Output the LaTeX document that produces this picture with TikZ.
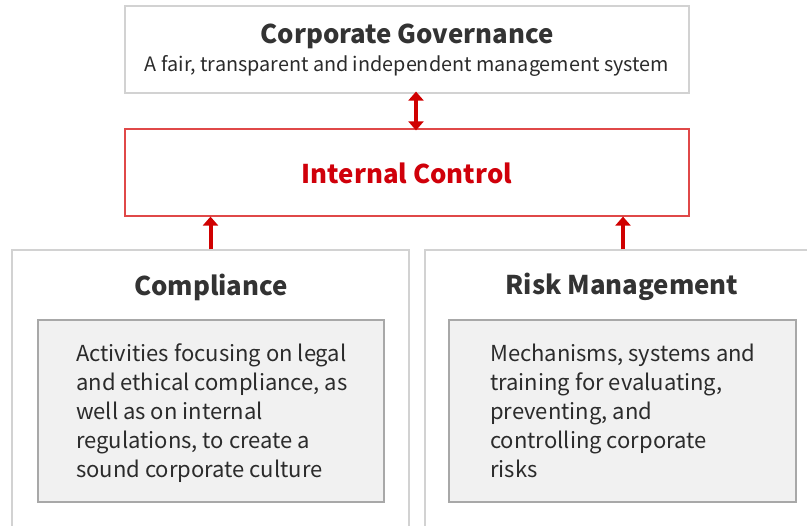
\documentclass[tikz,border=0pt]{standalone}
\usepackage{fontspec}
\setmainfont{Noto Sans CJK KR}
\usetikzlibrary{arrows.meta,calc}
\definecolor{boxgray}{HTML}{D2D2D2}
\definecolor{innerfill}{HTML}{F1F1F1}
\definecolor{innerdraw}{HTML}{A8A8A8}
\definecolor{txt}{HTML}{333333}
\definecolor{bodytxt}{HTML}{2B2B2B}
\definecolor{redline}{HTML}{E04848}
\definecolor{redtxt}{HTML}{D0000A}
\definecolor{redarrow}{HTML}{D00000}
\begin{document}
\begin{tikzpicture}[x=1pt,y=-1pt,
  plainbox/.style={draw=boxgray,line width=1.2pt,fill=white,inner sep=0pt},
  innerbox/.style={draw=innerdraw,line width=1.2pt,fill=innerfill,inner sep=0pt},
  redbox/.style={draw=redline,line width=1.2pt,fill=white,inner sep=0pt},
  bigtitle/.style={font=\fontsize{25.8}{30}\selectfont\bfseries,text=txt,inner sep=0pt},
  subtitle/.style={font=\fontsize{19.8}{23}\selectfont,text=bodytxt,inner sep=0pt},
  bodytext/.style={font=\fontsize{22}{29}\selectfont,text=bodytxt,align=left,inner sep=0pt,anchor=north west},
  redarr/.style={draw=redarrow,line width=4pt,-{Triangle[width=15pt,length=9pt]}},
  redarrboth/.style={draw=redarrow,line width=4pt,{Triangle[width=15pt,length=9pt]}-{Triangle[width=15pt,length=9pt]}}
]
\useasboundingbox (0,0) rectangle (807,526);
\clip (0,0) rectangle (807,526);
% top box
\node[plainbox,minimum width=564pt,minimum height=87pt] (gov) at (407,49.5) {};
\node[bigtitle] (govt) at (407,36) {Corporate Governance};
\node[subtitle] (govs) at (407,66) {A fair, transparent and independent management system};
% internal control
\node[redbox,minimum width=564pt,minimum height=87pt] (ic) at (407,172.5) {};
\node[bigtitle,text=redtxt] (ict) at (407,173) {Internal Control};
% outer boxes
\node[plainbox,minimum width=397pt,minimum height=300pt] (comp) at (210.5,400) {};
\node[plainbox,minimum width=396pt,minimum height=300pt] (risk) at (623,400) {};
% titles
\node[bigtitle] (compt) at (211,287) {Compliance};
\node[bigtitle] (riskt) at (622,287) {Risk Management};
% inner boxes
\node[innerbox,minimum width=346pt,minimum height=182pt] (compin) at (211,411) {};
\node[innerbox,minimum width=347pt,minimum height=182pt] (riskin) at (622.5,411) {};
\node[bodytext] (compbody) at (76,344) {Activities focusing on legal\\and ethical compliance, as\\well as on internal\\regulations, to create a\\sound corporate culture};
\node[bodytext] (riskbody) at (490,344) {Mechanisms, systems and\\training for evaluating,\\preventing, and\\controlling corporate\\risks};
% arrows
\draw[redarrboth] ([yshift=2pt]gov.south -| 416,0) -- ([yshift=-2pt]ic.north -| 416,0);
\draw[redarr] (comp.north) -- (comp.north |- ic.south);
\draw[redarr] (risk.north) -- (risk.north |- ic.south);
\end{tikzpicture}
\end{document}
